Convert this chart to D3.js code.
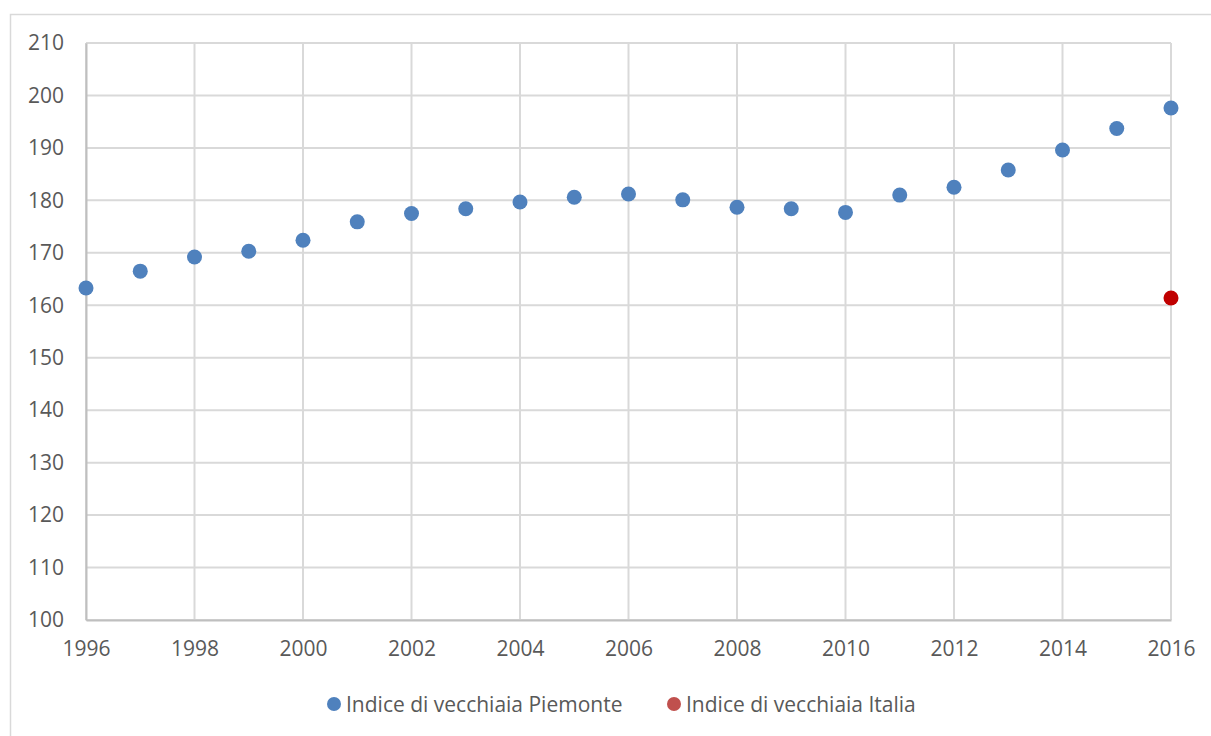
<!DOCTYPE html>
<html>
<head>
<meta charset="utf-8">
<script src="https://cdn.jsdelivr.net/npm/d3@7"></script>
<style>
  body { margin: 0; background: #fff; }
  svg { font-family: "Open Sans", "Liberation Sans", sans-serif; }
</style>
</head>
<body>
<div class="graphics"></div>
<script>
// data
var years = [1996, 1997, 1998, 1999, 2000, 2001, 2002, 2003, 2004, 2005, 2006,
             2007, 2008, 2009, 2010, 2011, 2012, 2013, 2014, 2015, 2016];
var piemonte = [163.3, 166.5, 169.2, 170.3, 172.4, 175.9, 177.5, 178.4, 179.7, 180.6, 181.2,
                180.1, 178.7, 178.4, 177.7, 181.0, 182.5, 185.8, 189.6, 193.7, 197.6];
var italiaYears = [2016];
var italia = [161.4];
var seriesNames = ["Indice di vecchiaia Piemonte", "Indice di vecchiaia Italia"];
var seriesColors = ["#4f81bd", "#c00000"];
var legendColors = ["#4f81bd", "#c0504d"];
var yTicks = [100, 110, 120, 130, 140, 150, 160, 170, 180, 190, 200, 210];
var xTicks = [1996, 1998, 2000, 2002, 2004, 2006, 2008, 2010, 2012, 2014, 2016];

function scatter() {
    var W = 1211, H = 736;
    var font = '"Open Sans", "Liberation Sans", sans-serif';
    var margin = {top: 43, right: 40, bottom: 116, left: 86},
        width = W - margin.left - margin.right,
        height = H - margin.top - margin.bottom;

    var root = d3.select(".graphics")
        .append("svg")
        .attr("width", W)
        .attr("height", H);

    // chart frame
    root.append("rect")
        .attr("x", 10.5).attr("y", 14.5)
        .attr("width", W).attr("height", H)
        .attr("fill", "none")
        .attr("stroke", "#d9d9d9")
        .attr("stroke-width", 1.5);

    var svg = root.append("g")
        .attr("transform", "translate(" + margin.left + "," + margin.top + ")");

    var x = d3.scaleLinear().domain([1996, 2016]).range([0, width]);
    var y = d3.scaleLinear().domain([100, 210]).range([height, 0]);

    // gridlines
    svg.append("g")
        .selectAll("line")
        .data(yTicks)
        .enter().append("line")
            .attr("x1", 0).attr("x2", width)
            .attr("y1", function(d) { return y(d); })
            .attr("y2", function(d) { return y(d); })
            .attr("stroke", "#d9d9d9")
            .attr("stroke-width", 2);

    svg.append("g")
        .selectAll("line")
        .data(xTicks)
        .enter().append("line")
            .attr("x1", function(d) { return x(d); })
            .attr("x2", function(d) { return x(d); })
            .attr("y1", 0).attr("y2", height)
            .attr("stroke", "#d9d9d9")
            .attr("stroke-width", 2);

    // axes
    var yAxis = svg.append("g")
        .call(d3.axisLeft(y).tickValues(yTicks).tickSize(0).tickPadding(22));
    var xAxis = svg.append("g")
        .attr("transform", "translate(0," + height + ")")
        .call(d3.axisBottom(x).tickValues(xTicks).tickFormat(d3.format("d")).tickSize(0).tickPadding(21));

    [xAxis, yAxis].forEach(function(a) {
        a.attr("font-family", font).attr("font-size", 21);
        a.select(".domain").attr("stroke", "#bfbfbf").attr("stroke-width", 2);
        a.selectAll("text").attr("fill", "#595959");
    });

    // points
    svg.selectAll("circle.piemonte")
        .data(years)
        .enter().append("circle")
            .attr("class", "piemonte")
            .attr("cx", function(d) { return x(d); })
            .attr("cy", function(d, i) { return y(piemonte[i]); })
            .attr("r", 7.5)
            .attr("fill", seriesColors[0]);

    svg.selectAll("circle.italia")
        .data(italiaYears)
        .enter().append("circle")
            .attr("class", "italia")
            .attr("cx", function(d) { return x(d); })
            .attr("cy", function(d, i) { return y(italia[i]); })
            .attr("r", 7.5)
            .attr("fill", seriesColors[1]);

    // legend
    var legendX = [334, 674];
    var legend = root.append("g");
    seriesNames.forEach(function(name, i) {
        legend.append("circle")
            .attr("cx", legendX[i]).attr("cy", 704)
            .attr("r", 7)
            .attr("fill", legendColors[i]);
        legend.append("text")
            .attr("x", legendX[i] + 12).attr("y", 712)
            .attr("fill", "#595959")
            .style("font-size", "21px")
            .text(name);
    });
}

scatter();
</script>
</body>
</html>
